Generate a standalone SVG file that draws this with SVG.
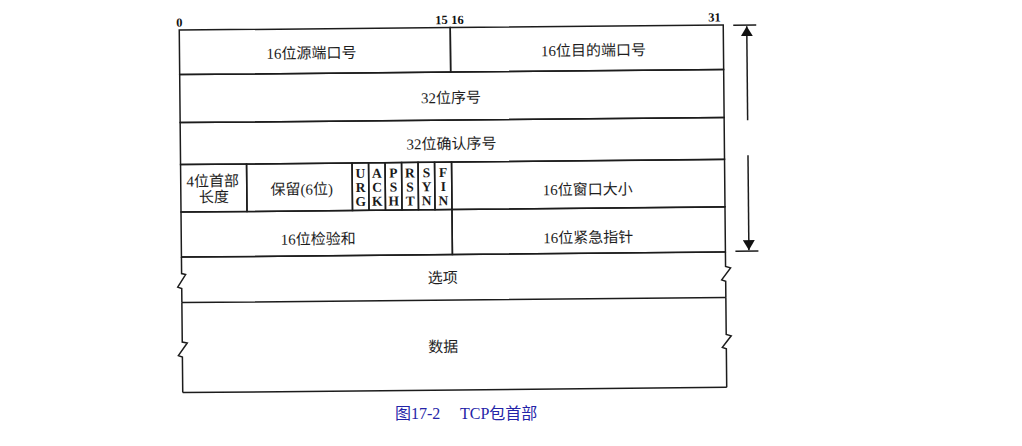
<svg xmlns="http://www.w3.org/2000/svg" width="1022" height="446" viewBox="0 0 1022 446">
<style>
.ln{fill:none;stroke:#1c1c1c;stroke-width:1.5}
.t{font-family:"Liberation Serif","Noto Sans CJK SC",serif;font-size:15px;fill:#1e1e1e;text-anchor:middle}
.b{font-family:"Liberation Serif",serif;font-weight:bold;font-size:12.5px;fill:#111}
.f{font-family:"Liberation Serif",serif;font-weight:bold;font-size:13.5px;fill:#1a1a1a;text-anchor:middle}
.cap{font-family:"Liberation Serif","Noto Sans CJK SC",serif;font-size:16px;fill:#2424a8}
</style>
<defs>
<marker id="ah" viewBox="0 0 10 12" refX="10" refY="6" markerWidth="10" markerHeight="12" markerUnits="userSpaceOnUse" orient="auto">
<path d="M0,0 L10,6 L0,12 Z" fill="#111"/>
</marker>
</defs>
<rect width="1022" height="446" fill="#ffffff"/>
<g transform="rotate(-0.55 452 210)">
<g id="bit-labels">
<text class="b" x="178" y="24">0</text>
<text class="b" x="437" y="24">15</text>
<text class="b" x="453" y="24">16</text>
<text class="b" x="710" y="24">31</text>
</g>
<g id="src-port"><rect class="ln" x="181" y="27.5" width="271" height="44.5"/><text class="t" x="313" y="57">16位源端口号</text></g>
<g id="dst-port"><rect class="ln" x="452" y="27.5" width="273" height="44.5"/><text class="t" x="595" y="57">16位目的端口号</text></g>
<g id="seq"><rect class="ln" x="181" y="72" width="544" height="48"/><text class="t" x="452" y="103">32位序号</text></g>
<g id="ack"><rect class="ln" x="181" y="120" width="544" height="42"/><text class="t" x="452" y="149">32位确认序号</text></g>
<g id="hlen"><rect class="ln" x="181" y="162" width="66" height="47.5"/><text class="t" x="213" y="184">4位首部</text><text class="t" x="214" y="200">长度</text></g>
<g id="reserved"><rect class="ln" x="247" y="162" width="105.5" height="47.5"/><text class="t" x="302" y="193">保留(6位)</text></g>
<g id="flags">
<rect class="ln" x="352.5" y="162" width="16.5" height="47.5"/>
<rect class="ln" x="369" y="162" width="16.5" height="47.5"/>
<rect class="ln" x="385.5" y="162" width="16.5" height="47.5"/>
<rect class="ln" x="402" y="162" width="16.5" height="47.5"/>
<rect class="ln" x="418.5" y="162" width="16.5" height="47.5"/>
<rect class="ln" x="435" y="162" width="17" height="47.5"/>
<text class="f" x="360.75" y="177">U</text><text class="f" x="360.75" y="191">R</text><text class="f" x="360.75" y="205">G</text>
<text class="f" x="377.25" y="177">A</text><text class="f" x="377.25" y="191">C</text><text class="f" x="377.25" y="205">K</text>
<text class="f" x="393.75" y="177">P</text><text class="f" x="393.75" y="191">S</text><text class="f" x="393.75" y="205">H</text>
<text class="f" x="410.25" y="177">R</text><text class="f" x="410.25" y="191">S</text><text class="f" x="410.25" y="205">T</text>
<text class="f" x="426.75" y="177">S</text><text class="f" x="426.75" y="191">Y</text><text class="f" x="426.75" y="205">N</text>
<text class="f" x="443.5" y="177">F</text><text class="f" x="443.5" y="191">I</text><text class="f" x="443.5" y="205">N</text>
</g>
<g id="window"><rect class="ln" x="452" y="162" width="273" height="47.5"/><text class="t" x="588" y="196">16位窗口大小</text></g>
<g id="checksum"><rect class="ln" x="181" y="209.5" width="271" height="45"/><text class="t" x="318" y="243">16位检验和</text></g>
<g id="urgent"><rect class="ln" x="452" y="209.5" width="273" height="45"/><text class="t" x="588" y="244">16位紧急指针</text></g>
<g id="options">
<path class="ln" d="M181,254.5 H725 M181,300 H725"/>
<path class="ln" d="M181,254.5 V271 L185,272 L177,284.5 L181,286 V300"/>
<path class="ln" d="M725,254.5 V269 L730,270.5 L721,282.5 L725,284 V300"/>
<text class="t" x="442" y="283">选项</text>
</g>
<g id="data">
<path class="ln" d="M181,390 H725"/>
<path class="ln" d="M181,300 V339.5 L186,340.5 L177,353 L181,354.5 V390"/>
<path class="ln" d="M725,300 V337 L730,338.5 L721,350 L725,351.5 V390"/>
<text class="t" x="442" y="352">数据</text>
</g>
<g id="connectors">
<path class="ln" d="M735,28 H758 M735,254 H758"/>
<path class="ln" d="M748.5,123 V29" marker-end="url(#ah)"/>
<path class="ln" d="M748.5,158 V253" marker-end="url(#ah)"/>
</g>
</g>
<g id="caption">
<text class="cap" x="395" y="419">图17-2</text>
<text class="cap" x="460" y="419">TCP包首部</text>
</g>
</svg>
